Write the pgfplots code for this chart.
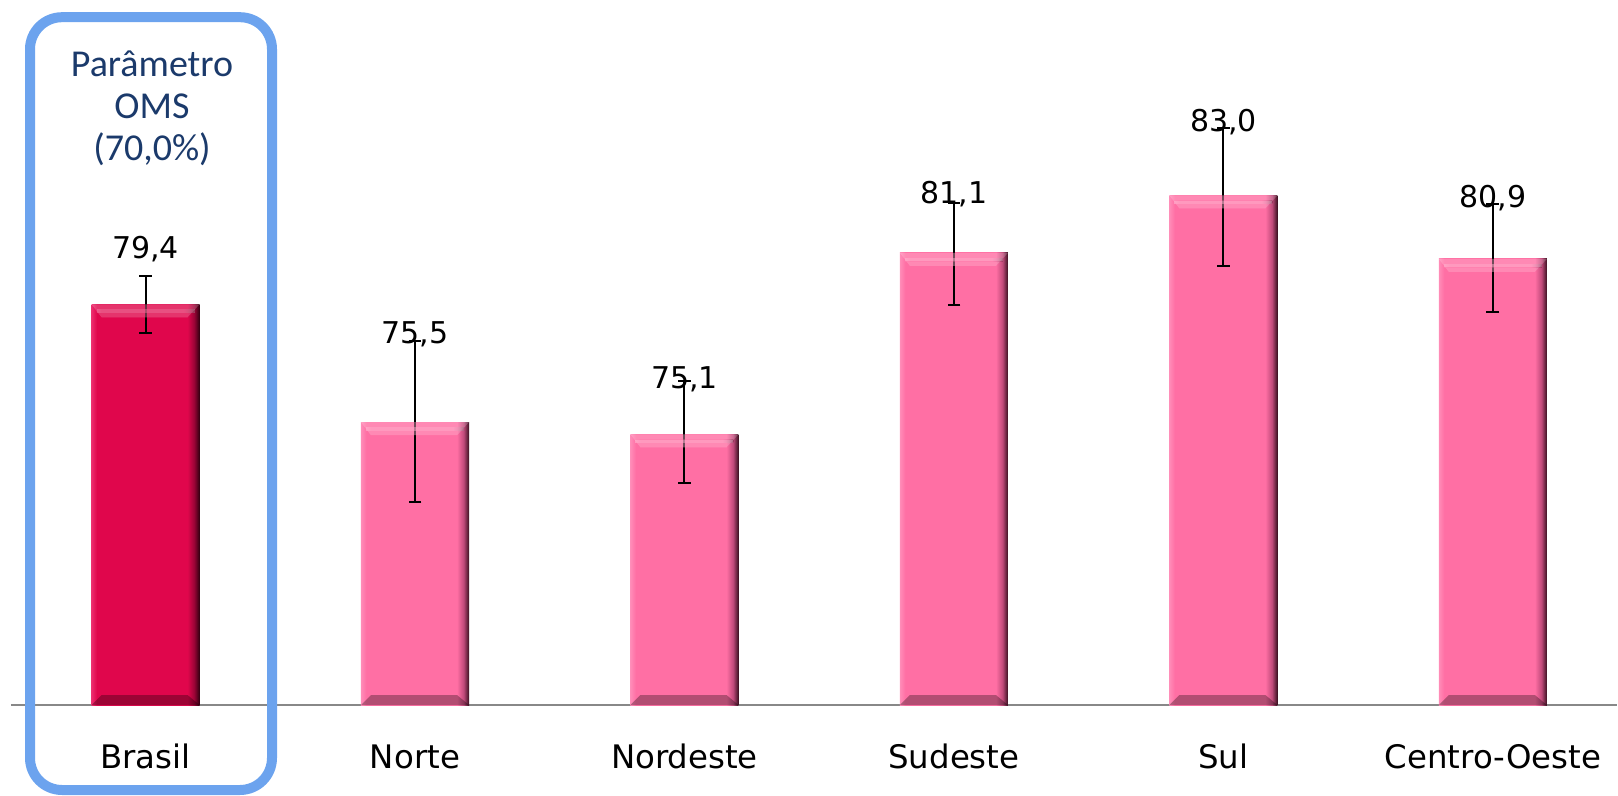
\documentclass[border=0pt]{standalone}
\usepackage{fontspec}
\setmainfont{DejaVu Sans}
\newfontfamily\calibri{Carlito}
\usepackage{pgfplots}
\pgfplotsset{compat=1.18}
\definecolor{barpink}{HTML}{FF6FA4}
\definecolor{pinkL}{HTML}{FF8CB8}
\definecolor{pinkM}{HTML}{C04A7A}
\definecolor{pinkD}{HTML}{3A1020}
\definecolor{barred}{HTML}{E0064C}
\definecolor{redL}{HTML}{EC2D6E}
\definecolor{redM}{HTML}{9A0436}
\definecolor{redD}{HTML}{300010}
\definecolor{frameblue}{HTML}{6CA3EE}
\definecolor{textblue}{HTML}{1B3A6B}
\definecolor{axisgray}{HTML}{888888}
\pgfdeclarehorizontalshading{pinkbev}{100bp}{color(0bp)=(pinkL); color(25bp)=(pinkL); color(27.5bp)=(barpink); color(69.4bp)=(barpink); color(72.5bp)=(pinkM); color(75bp)=(pinkD); color(100bp)=(pinkD)}
\pgfdeclarehorizontalshading{redbev}{100bp}{color(0bp)=(redL); color(25bp)=(redL); color(27.5bp)=(barred); color(69.4bp)=(barred); color(72.5bp)=(redM); color(75bp)=(redD); color(100bp)=(redD)}
\newcommand\topbevel{\begin{tikzpicture}[reset cm, x=1pt, y=1pt]
  \fill[white,opacity=0.25] (0,0) -- (54,0) -- (48,-6.5) -- (5,-6.5) -- cycle;
  \fill[white,opacity=0.3] (2.5,-2.6) rectangle (51.5,-4.2);
  \end{tikzpicture}}
\newcommand\botbevel{\begin{tikzpicture}[reset cm, x=1pt, y=1pt]
  \fill[black,opacity=0.3] (0,0) -- (54,0) -- (48,5) -- (5,5) -- cycle;
  \end{tikzpicture}}
\pgfplotsset{eb/.style={
  error bars/y dir=both, error bars/y explicit,
  error bars/error bar style={line width=1pt, black},
  error bars/error mark options={rotate=90, mark size=3.2pt, line width=1pt, black}},
  bb/.style={ybar, bar width=54pt, bar shift=0pt, draw=none, shading=#1, eb,
    nodes near coords=\topbevel, nodes near coords style={anchor=north, inner sep=0pt, outer sep=0pt}}}
\begin{document}
\begin{tikzpicture}
\path[use as bounding box] (0,0) rectangle (809pt,-398pt);
\begin{axis}[
  at={(5.4pt,-352.5pt)}, anchor=south west,
  scale only axis, width=803pt, height=352.5pt,
  xmin=-0.5, xmax=5.46, ymin=0, ymax=23.31,
  y filter/.expression={y-66.15},
  axis x line=bottom, axis y line=none,
  x axis line style={-, draw=axisgray, line width=1pt},
  xtick={0,1,2,3,4,5},
  xticklabels={Brasil,Norte,Nordeste,Sudeste,Sul,Centro-Oeste},
  major tick length=0pt,
  xticklabel style={anchor=base, yshift=-31.5pt, font=\fontsize{16.2}{19}\selectfont},
  clip=false,
]
\addplot[bb=redbev] coordinates {(0,79.4) += (0,0.92) -= (0,0.96)};
\addplot[bb=pinkbev] coordinates {(1,75.5) += (0,2.70) -= (0,2.63)};
\addplot[bb=pinkbev] coordinates {(2,75.1) += (0,1.77) -= (0,1.60)};
\addplot[bb=pinkbev] coordinates {(3,81.1) += (0,1.64) -= (0,1.71)};
\addplot[bb=pinkbev] coordinates {(4,83.0) += (0,2.22) -= (0,2.32)};
\addplot[bb=pinkbev] coordinates {(5,80.9) += (0,1.81) -= (0,1.77)};
\addplot[draw=none, mark=none, nodes near coords=\botbevel,
  nodes near coords style={anchor=south, inner sep=0pt, outer sep=0pt}]
  coordinates {(0,66.15) (1,66.15) (2,66.15) (3,66.15) (4,66.15) (5,66.15)};
\addplot[draw=none, mark=none, nodes near coords, point meta=explicit symbolic,
  nodes near coords style={anchor=base, inner sep=0pt, black, font=\fontsize{15}{18}\selectfont}]
  table[meta=lab] {
x y lab
0 80.90 79,4
1 78.11 75,5
2 76.61 75,1
3 82.72 81,1
4 85.11 83,0
5 82.61 80,9
};
\end{axis}
\draw[frameblue, line width=5pt, rounded corners=16pt] (15pt,-8.6pt) rectangle (136pt,-395pt);
\node[textblue, anchor=base, font=\calibri\fontsize{19}{21}\selectfont] at (76pt,-38.5pt) {Parâmetro};
\node[textblue, anchor=base, font=\calibri\fontsize{19}{21}\selectfont] at (76pt,-59.5pt) {OMS};
\node[textblue, anchor=base, font=\calibri\fontsize{19}{21}\selectfont] at (76pt,-80.5pt) {(70,0\%)};
\end{tikzpicture}
\end{document}
